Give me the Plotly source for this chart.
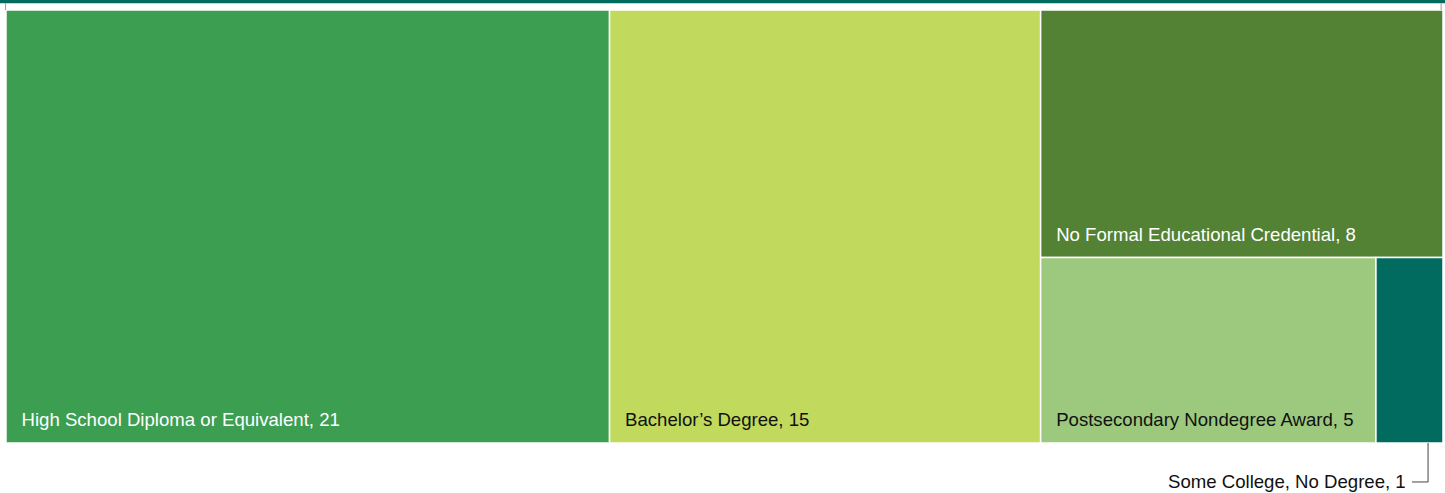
import plotly.graph_objects as go

labels = ["High School Diploma or Equivalent", "Bachelor\u2019s Degree",
          "No Formal Educational Credential", "Postsecondary Nondegree Award",
          "Some College, No Degree"]
values = [21, 15, 8, 5, 1]
colors = ["#3c9e51", "#c1d95c", "#548235", "#9cc97e", "#006b5e"]
text_colors = ["#ffffff", "#111111", "#ffffff", "#111111", "#ffffff"]
pad = "\u00a0" * 5
label_tpl = pad + "<span style='font-size:18.6px'>%{label}, %{value}</span><br> "
templates = [label_tpl] * (len(labels) - 1) + [""]

fig = go.Figure(go.Treemap(
    labels=labels,
    parents=[""] * len(labels),
    values=values,
    sort=True,
    tiling=dict(packing="squarify", squarifyratio=1, pad=0),
    marker=dict(colors=colors, line=dict(color="white", width=1.5), pad=dict(t=0, l=0, r=0, b=0)),
    texttemplate=templates,
    textposition="bottom left",
    textfont=dict(family="Liberation Sans, Arial, sans-serif", size=9, color=text_colors),
    hoverinfo="label+value",
    root=dict(color="white"),
    pathbar=dict(visible=False),
))

fig.add_shape(type="rect", xref="paper", yref="paper", x0=-0.005, x1=1.002, y0=1.0155, y1=1.0235,
              fillcolor="#006b5e", line=dict(width=0))
for xe in [-0.0003, 0.9987]:
    fig.add_shape(type="line", xref="paper", yref="paper", x0=xe, x1=xe, y0=1.0, y1=1.0155,
                  line=dict(color="#999999", width=1))
fig.add_shape(type="path", xref="paper", yref="paper",
              path="M 0.9896 0 L 0.9896 -0.09 L 0.9784 -0.09",
              line=dict(color="#444444", width=1))
fig.add_annotation(text=labels[-1] + ", " + str(values[-1]), xref="paper", yref="paper",
                   x=0.9755, y=-0.09, xanchor="right", yanchor="middle", showarrow=False,
                   font=dict(family="Liberation Sans, Arial, sans-serif", size=18.6, color="#111111"))

fig.update_layout(width=1445, height=493, margin=dict(l=6, r=2, t=10, b=50),
                  paper_bgcolor="white", plot_bgcolor="white")
fig.write_html("out.html", config={"displayModeBar": False},
               post_script="document.body.style.margin='0';document.body.style.overflow='hidden';")
